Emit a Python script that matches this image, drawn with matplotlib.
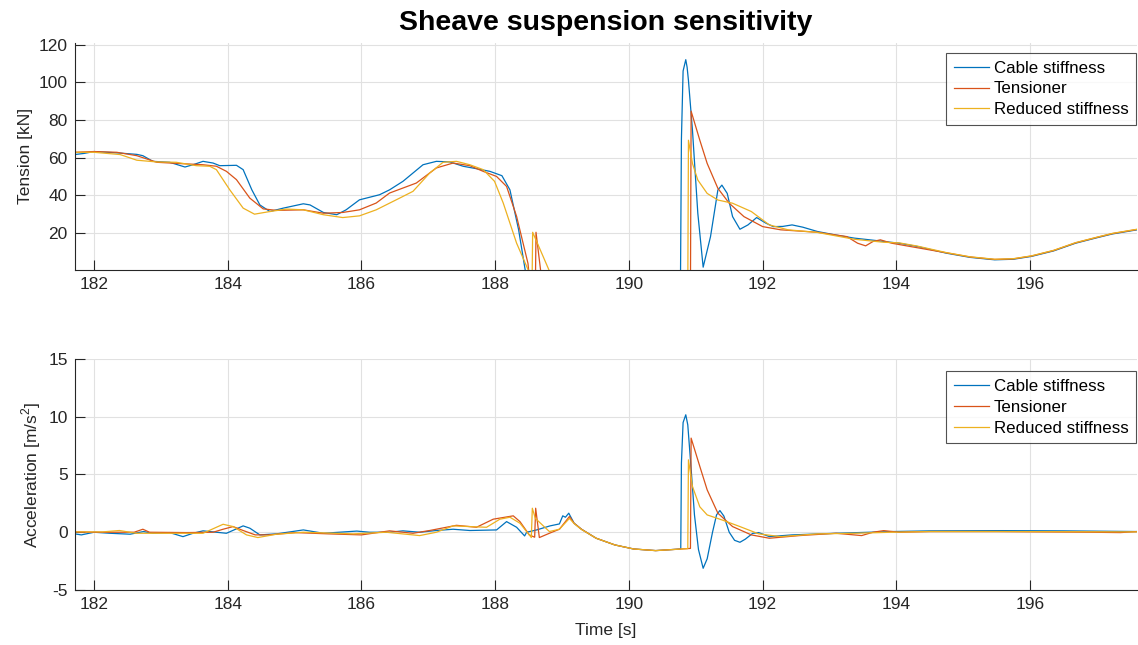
import matplotlib
matplotlib.use("Agg")
import matplotlib.pyplot as plt

plt.rcParams["font.family"] = ["Liberation Sans", "DejaVu Sans"]
plt.rcParams["mathtext.fontset"] = "custom"
plt.rcParams["mathtext.rm"] = "Liberation Sans"
plt.rcParams["axes.unicode_minus"] = False

SERIES = ("Cable stiffness", "Tensioner", "Reduced stiffness")
COLORS = ("#0072BD", "#D95319", "#EDB120")
AXIS_COLOR = "#262626"

# ---- cable tension [kN] ----
t_cable_tension = [
    181.71, 181.85, 182.0, 182.34, 182.64, 182.73, 182.88, 183.13, 183.36, 183.48,
    183.63, 183.78, 183.88, 184.13, 184.23, 184.36, 184.48, 184.63, 184.83, 185.13,
    185.23, 185.43, 185.63, 185.77, 185.97, 186.27, 186.42, 186.62, 186.92, 187.12,
    187.32, 187.52, 187.72, 187.92, 188.10, 188.22, 188.35, 188.44, 188.50, 190.77,
    190.785, 190.81, 190.85, 190.87, 190.89, 190.95, 191.03, 191.11, 191.22, 191.33,
    191.39, 191.47, 191.55, 191.66, 191.78, 191.91, 192.05, 192.16, 192.30, 192.44,
    192.60, 192.82, 193.10, 193.37, 193.70, 194.04, 194.31, 194.75, 195.10, 195.47,
    195.75, 196.02, 196.35, 196.68, 197.00, 197.23, 197.60,
]
cable_tension = [
    61.7, 62.3, 63.3, 62.6, 61.8, 61.1, 58.1, 57.6, 55.1, 56.3,
    58.1, 57.2, 55.8, 56.0, 53.7, 43.0, 35.0, 31.5, 33.3, 35.6,
    35.0, 31.0, 29.8, 32.4, 37.7, 40.4, 43.0, 47.5, 56.3, 58.1,
    57.8, 55.5, 54.2, 52.8, 50.5, 43.0, 21.8, 2.3, -10.0, -10.0,
    70.0, 106.0, 112.0, 108.0, 101.0, 74.6, 30.6, 2.0, 18.2, 42.9,
    45.5, 41.1, 28.8, 22.1, 24.4, 28.3, 25.3, 23.5, 23.6, 24.4,
    23.2, 20.9, 19.0, 17.4, 16.1, 14.7, 13.0, 9.4, 7.2, 5.9,
    6.2, 7.7, 10.6, 14.7, 17.6, 19.6, 21.8,
]

t_tensioner_tension = [
    181.71, 182.0, 182.34, 182.64, 182.94, 183.30, 183.63, 183.83, 183.98, 184.13,
    184.33, 184.53, 184.73, 185.13, 185.43, 185.72, 185.97, 186.22, 186.42, 186.82,
    187.12, 187.37, 187.62, 187.82, 188.02, 188.17, 188.32, 188.49, 188.53, 188.60,
    188.61, 188.68, 188.70, 190.92, 190.93, 191.06, 191.17, 191.33, 191.50, 191.72,
    192.00, 192.27, 192.82, 193.26, 193.42, 193.54, 193.65, 193.76, 193.93, 194.20,
    194.75, 195.10, 195.47, 195.75, 196.02, 196.35, 196.68, 197.00, 197.23, 197.60,
]
tensioner_tension = [
    62.9, 63.3, 62.9, 61.1, 57.6, 56.9, 56.3, 55.5, 52.8, 48.4,
    38.6, 32.9, 32.1, 32.4, 30.6, 31.0, 32.4, 36.0, 41.3, 46.6,
    54.6, 57.2, 55.8, 52.8, 50.1, 44.8, 28.9, 4.0, -10.0, -10.0,
    20.5, 0.0, -10.0, -10.0, 84.7, 69.3, 57.0, 43.8, 35.9, 28.8,
    23.5, 21.8, 20.5, 18.2, 14.7, 13.3, 15.6, 16.5, 14.7, 13.0,
    9.6, 7.4, 6.1, 6.4, 7.9, 10.8, 14.9, 17.8, 19.8, 22.0,
]

t_reduced_tension = [
    181.71, 182.0, 182.39, 182.64, 182.93, 183.23, 183.53, 183.73, 183.83, 184.03,
    184.23, 184.40, 184.63, 184.88, 185.13, 185.43, 185.72, 185.97, 186.22, 186.57,
    186.77, 187.02, 187.22, 187.42, 187.62, 187.82, 187.99, 188.12, 188.32, 188.49,
    188.52, 188.55, 188.56, 188.81, 188.85, 190.88, 190.89, 190.95, 191.03, 191.17,
    191.33, 191.55, 191.83, 192.10, 192.38, 192.82, 193.37, 193.81, 194.04, 194.31,
    194.75, 195.10, 195.47, 195.75, 196.02, 196.35, 196.68, 197.00, 197.23, 197.60,
]
reduced_tension = [
    62.9, 62.9, 61.7, 58.7, 57.8, 57.6, 55.8, 55.5, 53.7, 43.0,
    33.3, 30.1, 31.5, 32.8, 32.4, 29.8, 28.3, 29.2, 32.4, 38.6,
    42.2, 51.9, 57.6, 58.1, 56.3, 53.7, 47.5, 36.0, 14.7, 0.8,
    -10.0, -10.0, 20.5, 0.0, -10.0, -10.0, 69.3, 57.0, 48.2, 41.1,
    37.6, 35.9, 31.5, 24.4, 21.8, 20.4, 16.8, 15.2, 14.9, 13.2,
    9.7, 7.5, 6.2, 6.5, 8.0, 10.9, 15.0, 17.9, 19.9, 22.1,
]

# ---- sheave acceleration [m/s^2] ----
t_cable_acc = [
    181.71, 181.81, 182.0, 182.24, 182.54, 182.74, 182.88, 183.13, 183.33, 183.48,
    183.63, 183.83, 183.98, 184.23, 184.33, 184.48, 184.73, 185.13, 185.43, 185.93,
    186.12, 186.42, 186.62, 186.87, 187.12, 187.37, 187.62, 188.02, 188.17, 188.32,
    188.44, 188.47, 188.62, 188.82, 188.96, 189.01, 189.05, 189.10, 189.18, 189.29,
    189.51, 189.79, 190.07, 190.40, 190.775, 190.785, 190.81, 190.85, 190.88, 190.93,
    190.98, 191.04, 191.11, 191.17, 191.25, 191.31, 191.36, 191.42, 191.50, 191.58,
    191.66, 191.74, 191.85, 191.94, 192.10, 192.44, 193.10, 193.93, 194.50, 195.58,
    196.50, 197.60,
]
cable_acc = [
    -0.14, -0.23, 0.0, -0.09, -0.17, 0.06, -0.09, -0.03, -0.38, -0.09,
    0.12, 0.0, -0.09, 0.55, 0.35, -0.23, -0.14, 0.2, -0.09, 0.1,
    0.0, 0.0, 0.12, 0.0, 0.15, 0.26, 0.15, 0.2, 0.92, 0.43,
    -0.32, 0.0, 0.2, 0.55, 0.72, 1.42, 1.3, 1.65, 0.78, 0.26,
    -0.52, -1.1, -1.45, -1.59, -1.45, 6.0, 9.5, 10.17, 9.3, 5.5,
    1.5, -1.5, -3.12, -2.3, 0.0, 1.5, 1.88, 1.4, 0.0, -0.7,
    -0.87, -0.6, -0.1, -0.03, -0.38, -0.23, -0.09, 0.06, 0.12, 0.14,
    0.12, 0.06,
]

t_tensioner_acc = [
    181.71, 182.0, 182.60, 182.73, 182.83, 183.38, 183.78, 183.93, 184.08, 184.23,
    184.41, 184.61, 185.01, 185.50, 186.00, 186.42, 186.77, 187.02, 187.42, 187.72,
    187.97, 188.27, 188.37, 188.51, 188.59, 188.605, 188.66, 188.81, 188.96, 189.11,
    189.18, 189.29, 189.51, 189.79, 190.07, 190.40, 190.92, 190.93, 191.06, 191.17,
    191.33, 191.55, 191.83, 192.10, 192.55, 193.10, 193.48, 193.65, 193.81, 194.04,
    194.50, 195.50, 196.90, 197.35, 197.60,
]
tensioner_acc = [
    0.03, 0.0, 0.0, 0.26, 0.0, -0.03, 0.0, 0.26, 0.49, 0.15,
    -0.23, -0.23, -0.03, -0.14, -0.23, 0.12, -0.09, 0.15, 0.6, 0.43,
    1.13, 1.42, 0.92, -0.23, -0.43, 2.08, -0.46, -0.09, 0.26, 1.36,
    0.78, 0.26, -0.52, -1.1, -1.45, -1.59, -1.4, 8.15, 5.7, 3.67,
    1.65, 0.49, -0.23, -0.52, -0.29, -0.09, -0.29, 0.0, 0.14, 0.0,
    0.06, 0.06, 0.0, -0.03, 0.06,
]

t_reduced_acc = [
    181.71, 182.13, 182.38, 182.63, 183.13, 183.63, 183.93, 184.08, 184.28, 184.45,
    184.73, 185.13, 185.88, 186.37, 186.87, 187.12, 187.37, 187.87, 188.07, 188.22,
    188.37, 188.54, 188.555, 188.60, 188.81, 188.96, 189.11, 189.18, 189.29, 189.51,
    189.79, 190.07, 190.40, 190.88, 190.89, 190.95, 191.06, 191.17, 191.39, 191.66,
    191.94, 192.27, 192.82, 193.37, 193.93, 194.50, 195.60, 197.60,
]
reduced_acc = [
    0.03, 0.03, 0.15, -0.09, -0.09, -0.09, 0.69, 0.49, -0.23, -0.46,
    -0.17, 0.0, -0.14, 0.0, -0.29, 0.0, 0.55, 0.43, 1.13, 1.3,
    0.78, -0.46, 2.08, 1.2, 0.06, 0.26, 1.2, 0.75, 0.24, -0.52,
    -1.1, -1.45, -1.59, -1.42, 6.27, 3.96, 2.2, 1.5, 1.07, 0.49,
    -0.14, -0.38, -0.14, -0.09, 0.0, 0.06, 0.06, 0.03,
]

x_ticks = [182, 184, 186, 188, 190, 192, 194, 196]
tension_ticks = [20, 40, 60, 80, 100, 120]
acc_ticks = [-5, 0, 5, 10, 15]

FS = 12.5


def style_axes(ax):
    for side in ("top", "right"):
        ax.spines[side].set_visible(False)
    for side in ("left", "bottom"):
        ax.spines[side].set_color(AXIS_COLOR)
        ax.spines[side].set_linewidth(0.8)
    ax.tick_params(direction="in", length=7, width=0.8, colors=AXIS_COLOR,
                   labelsize=FS, labelcolor=AXIS_COLOR, pad=5)
    ax.grid(True, color="#e1e1e1", linewidth=0.8)
    ax.set_axisbelow(True)
    ax.set_xlim(181.71, 197.6)
    ax.set_xticks(x_ticks)


def add_legend(ax, y_anchor):
    leg = ax.legend(loc="upper right", bbox_to_anchor=(0.999, y_anchor), borderaxespad=0,
                    fontsize=12.2, frameon=True, fancybox=False, handlelength=2.1,
                    handletextpad=0.25, labelspacing=0.35, borderpad=0.45)
    leg.get_frame().set_edgecolor(AXIS_COLOR)
    leg.get_frame().set_linewidth(0.8)
    for txt in leg.get_texts():
        txt.set_color("black")


fig = plt.figure(figsize=(11.38, 6.45), dpi=100)
fig.patch.set_facecolor("white")

ax1 = fig.add_axes([0.0656, 0.5814, 0.9336, 0.3524])
ax2 = fig.add_axes([0.0656, 0.0853, 0.9336, 0.3581])

ax1.plot(t_cable_tension, cable_tension, color=COLORS[0], lw=0.9, label=SERIES[0])
ax1.plot(t_tensioner_tension, tensioner_tension, color=COLORS[1], lw=0.9, label=SERIES[1])
ax1.plot(t_reduced_tension, reduced_tension, color=COLORS[2], lw=0.9, label=SERIES[2])
style_axes(ax1)
ax1.set_ylim(0.5, 121)
ax1.set_yticks(tension_ticks)
ax1.set_ylabel("Tension [kN]", fontsize=FS, color=AXIS_COLOR, labelpad=4)
ax1.set_title("Sheave suspension sensitivity", fontsize=20.5, fontweight="bold", pad=9)
add_legend(ax1, 0.955)

ax2.plot(t_cable_acc, cable_acc, color=COLORS[0], lw=0.9, label=SERIES[0])
ax2.plot(t_tensioner_acc, tensioner_acc, color=COLORS[1], lw=0.9, label=SERIES[1])
ax2.plot(t_reduced_acc, reduced_acc, color=COLORS[2], lw=0.9, label=SERIES[2])
style_axes(ax2)
ax2.set_ylim(-5, 15)
ax2.set_yticks(acc_ticks)
ax2.set_ylabel("Acceleration [m/s$^2$]", fontsize=FS, color=AXIS_COLOR, labelpad=4)
ax2.set_xlabel("Time [s]", fontsize=FS, color=AXIS_COLOR, labelpad=8)
add_legend(ax2, 0.948)

fig.savefig("out.png", dpi=100, facecolor="white")
